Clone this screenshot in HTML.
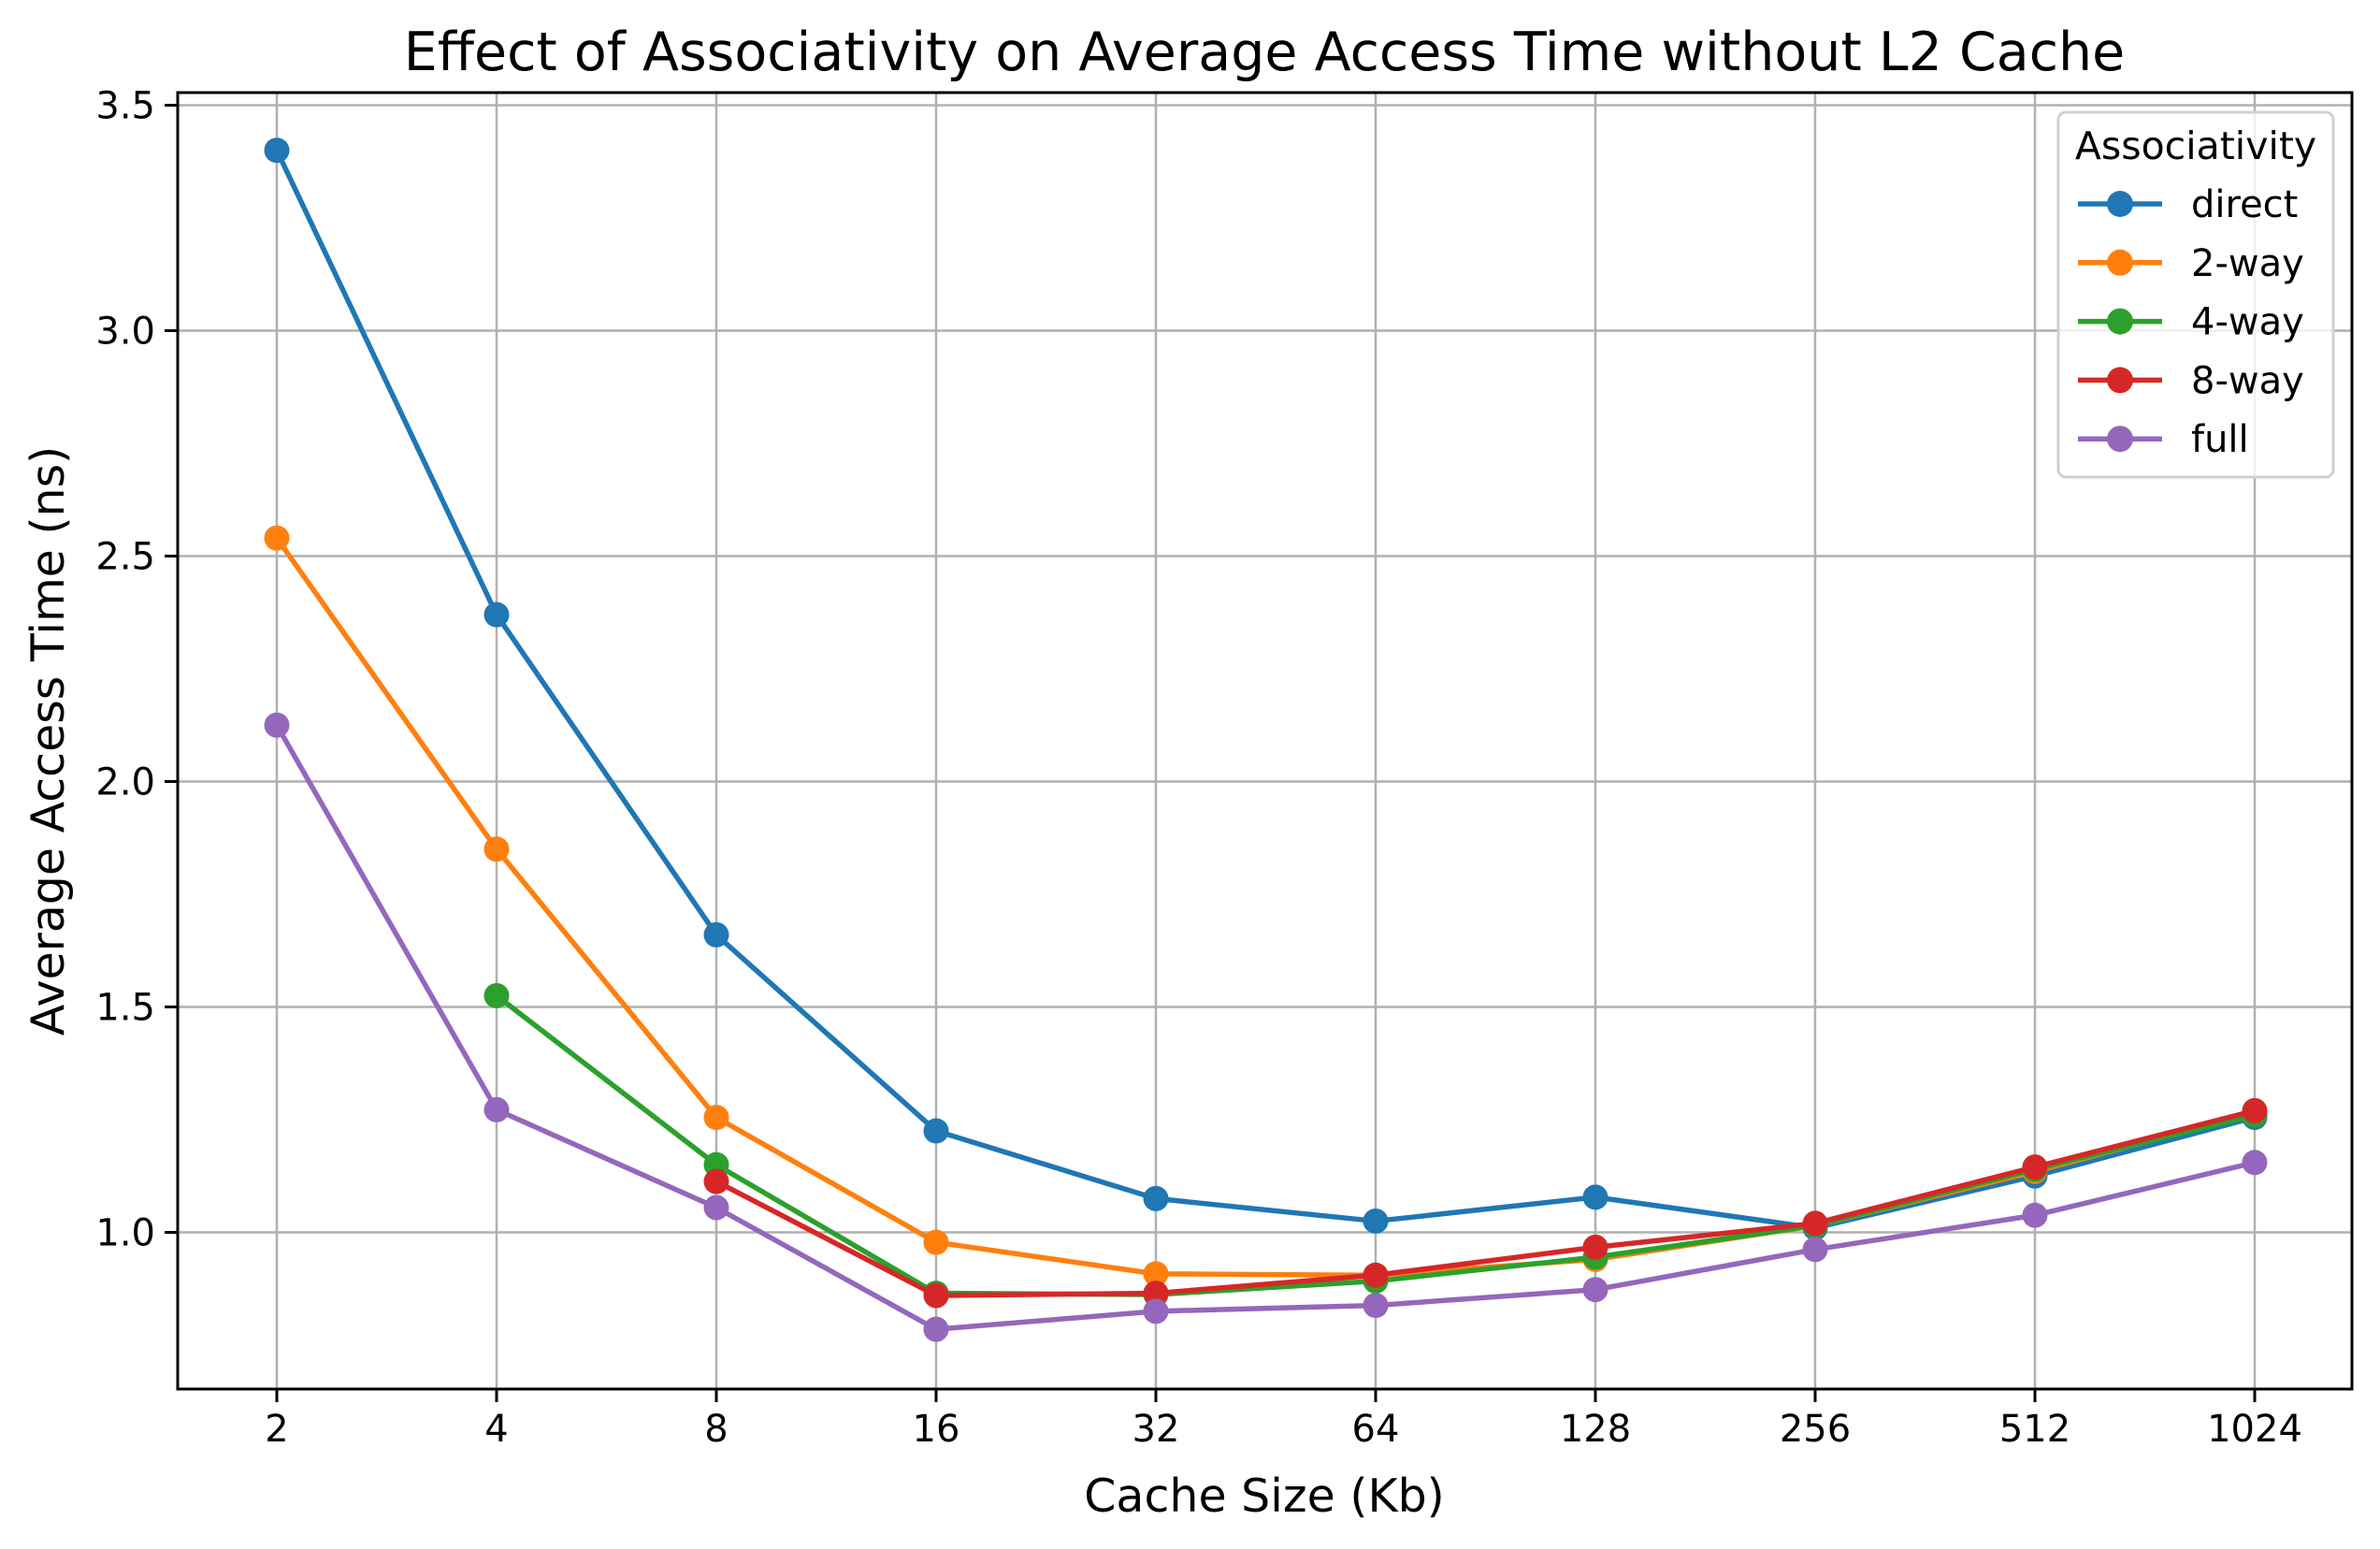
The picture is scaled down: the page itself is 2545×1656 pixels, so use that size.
<!DOCTYPE html>
<html><head><meta charset="utf-8"><style>
html,body{margin:0;padding:0;background:#fff}
svg text{font-family:"DejaVu Sans","Liberation Sans",sans-serif;fill:#000}
</style></head><body>
<svg id="chart" width="2545" height="1651" viewBox="0 0 2545 1651" xmlns="http://www.w3.org/2000/svg">
<rect width="2545" height="1651" fill="#fff"/>
<g id="grid"></g>
<g id="series"></g>
<rect x="190" y="99" width="2325" height="1386" fill="none" stroke="#000" stroke-width="3"/>
<g id="ticks"></g>
<text x="1352" y="75" font-size="57" text-anchor="middle">Effect of Associativity on Average Access Time without L2 Cache</text>
<text x="1352" y="1616" font-size="49" text-anchor="middle">Cache Size (Kb)</text>
<text transform="translate(68,792) rotate(-90)" font-size="49" text-anchor="middle">Average Access Time (ns)</text>
<g id="legend">
<rect x="2201" y="120" width="294" height="390" rx="8" fill="#fff" fill-opacity="0.8" stroke="#d0d0d0" stroke-width="3"/>
<text x="2348" y="170" font-size="41" text-anchor="middle">Associativity</text>
</g>
</svg>
<script>
const categories = ["2","4","8","16","32","64","128","256","512","1024"];
const seriesNames = ["direct","2-way","4-way","8-way","full"];
const colors = ["#1f77b4","#ff7f0e","#2ca02c","#d62728","#9467bd"];
const direct = [3.40,2.37,1.66,1.225,1.075,1.025,1.078,1.01,1.125,1.255];
const way2 = [2.54,1.85,1.255,0.978,0.908,0.905,0.94,1.015,1.135,1.265];
const way4 = [null,1.525,1.15,0.865,0.862,0.892,0.945,1.015,1.14,1.26];
const way8 = [null,null,1.113,0.86,0.865,0.905,0.967,1.02,1.145,1.27];
const full = [2.125,1.272,1.055,0.785,0.825,0.838,0.873,0.962,1.038,1.155];
const yTicks = [1.0,1.5,2.0,2.5,3.0,3.5];
const yTickLabels = ["1.0","1.5","2.0","2.5","3.0","3.5"];

const NS="http://www.w3.org/2000/svg";
const X0=296, DX=235.0;
function xs(i){return X0+i*DX;}
function ys(v){return 1317.5-(v-1.0)*482;}
function mk(tag,attrs,parent){const e=document.createElementNS(NS,tag);for(const k in attrs)e.setAttribute(k,attrs[k]);parent.appendChild(e);return e;}
const grid=document.getElementById('grid'), ticks=document.getElementById('ticks'), sg=document.getElementById('series'), lg=document.getElementById('legend');
categories.forEach((c,i)=>{
  const l=mk('line',{x1:xs(i),x2:xs(i),y1:99,y2:1485,stroke:'#b0b0b0','stroke-width':2.5},grid);
  
  
  const t=mk('line',{x1:xs(i),x2:xs(i),y1:1485,y2:1499,stroke:'#000','stroke-width':3},ticks);
  
  
  const tx=mk('text',{x:xs(i),y:1541,'font-size':40,'text-anchor':'middle'},ticks);
  tx.textContent=c;
  
  
});
yTicks.forEach((v,i)=>{
  const l=mk('line',{x1:190,x2:2515,y1:ys(v),y2:ys(v),stroke:'#b0b0b0','stroke-width':2.5},grid);
  
  
  const t=mk('line',{x1:176,x2:190,y1:ys(v),y2:ys(v),stroke:'#000','stroke-width':3},ticks);
  
  
  const tx=mk('text',{x:166,y:ys(v)+14,'font-size':40,'text-anchor':'end'},ticks);
  tx.textContent=yTickLabels[i];
  
  
});
const allSeries=[direct,way2,way4,way8,full];
allSeries.forEach((arr,s)=>{
  const g=mk('g',{},sg);
  
  
  const pts=[];arr.forEach((v,i)=>{if(v!==null)pts.push(xs(i)+','+ys(v));});
  const pl=mk('polyline',{points:pts.join(' '),fill:'none',stroke:colors[s],'stroke-width':5.5,'stroke-linejoin':'round'},g);
  
  
  arr.forEach((v,i)=>{if(v===null)return;
    const c=mk('circle',{cx:xs(i),cy:ys(v),r:13.5,fill:colors[s]},g);
    
    
  });
  const y=218+s*62.8;
  const ll=mk('line',{x1:2222,x2:2312,y1:y,y2:y,stroke:colors[s],'stroke-width':5.5},lg);
  
  
  const lc=mk('circle',{cx:2267,cy:y,r:14,fill:colors[s]},lg);
  
  
  const lt=mk('text',{x:2343,y:y+14,'font-size':40},lg);
  lt.textContent=seriesNames[s];
  
  
});
</script>
</body></html>
